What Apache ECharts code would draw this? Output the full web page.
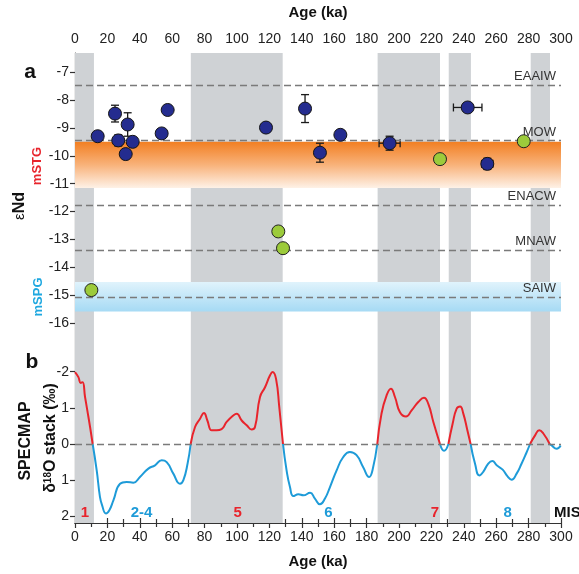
<!DOCTYPE html>
<html>
<head>
<meta charset="utf-8">
<script src="https://cdn.jsdelivr.net/npm/echarts@6/dist/echarts.min.js"></script>
<style>html,body{margin:0;padding:0;background:#fff;}#c{width:579px;height:574px;}</style>
</head>
<body>
<div id="c"></div>
<script>
// ---- Data ----
var ageTicks = [0,20,40,60,80,100,120,140,160,180,200,220,240,260,280,300];
// Interglacial (gray) bands, ka
var bandStart = [0, 71.5, 186.8, 230.7, 281.3];
var bandEnd   = [11.7, 128.2, 225.3, 244.4, 293.2];
// Panel a: blue points
var blueAge  = [14.0, 24.7, 26.7, 32.5, 31.3, 35.6, 53.5, 57.2, 117.9, 142.0, 163.8, 151.2, 194.2, 242.4, 254.5];
var blueNd   = [-9.30, -8.49, -9.45, -8.88, -9.94, -9.50, -9.20, -8.36, -8.99, -8.31, -9.25, -9.89, -9.55, -8.27, -10.29];
var blueYErr = [0, 0.30, 0.20, 0.42, 0.15, 0, 0, 0.15, 0, 0.50, 0.12, 0.34, 0.25, 0.05, 0.20];
var blueXErr = [0, 0, 0, 0, 0, 0, 0, 0, 0, 0, 0, 0, 6.5, 8.8, 3.5];
// Panel a: green points
var greenAge  = [225.3, 277.0, 125.5, 128.4, 10.1];
var greenNd   = [-10.12, -9.48, -12.71, -13.31, -14.81];
var greenYErr = [0, 0, 0, 0, 0];
var greenXErr = [3, 3, 0, 0, 0];
// Water mass end-members (dashed lines)
var wmNames  = ['EAAIW', 'MOW', 'ENACW', 'MNAW', 'SAIW'];
var wmValues = [-7.47, -9.46, -11.76, -13.37, -15.05];
// Shaded ranges
var mSTG = [-9.5, -11.15];
var mSPG = [-14.52, -15.58];
var aTicks = [-16,-15,-14,-13,-12,-11,-10,-9,-8,-7];
// Panel b: SPECMAP d18O stack
var bAges = [0,2.1,3.5,4.7,6.2,7.6,9.3,10.9,13.4,15.4,16.7,19.1,21.2,23.7,27.8,31.9,36,40.1,45.3,49.4,53.5,56.6,60.7,64.8,66.9,69.5,71.4,74.1,77.2,79.6,81.7,84.4,87.4,90.5,93.6,97.7,99.8,102.9,106,109,111.1,114.2,117.3,120.4,122,124.1,126.1,128.4,130.6,132.7,134.8,137.9,141,145.1,148.1,151.2,154.3,157.4,161.5,165.6,169.7,173.8,177.9,181.6,183.6,186.6,189.2,192.3,195,197.5,200.6,204.3,207.8,211.9,215.4,218.1,221.2,225.3,227.8,230.5,233.1,235.6,237.7,239.7,242.2,244.2,246.9,249.6,252,255.1,257.6,260.3,264,266.9,269.5,272.6,275.7,278.4,280.9,284,286.6,289.1,293.0,294.2,297.3,299.8];
var bValues = [-1.99,-1.85,-1.69,-1.71,-1.30,-0.93,-0.47,0,0.73,1.46,1.69,1.92,1.83,1.56,1.10,1.05,1.07,0.91,0.68,0.59,0.45,0.50,0.82,1.10,1.00,0.54,0,-0.47,-0.70,-0.86,-0.65,-0.38,-0.38,-0.41,-0.61,-0.79,-0.84,-0.65,-0.52,-0.40,-0.47,-1.30,-1.57,-1.90,-1.99,-1.80,-1.02,0,0.73,1.19,1.44,1.39,1.42,1.35,1.51,1.67,1.51,1.19,0.73,0.36,0.22,0.31,0.64,0.91,0.73,0,-0.84,-1.34,-1.53,-1.30,-0.88,-0.76,-0.93,-1.16,-1.28,-1.11,-0.61,0,0.19,0,-0.56,-0.98,-1.04,-0.84,-0.38,0,0.54,0.87,0.77,0.54,0.47,0.59,0.71,0.89,0.99,0.82,0.54,0.27,0,-0.24,-0.38,-0.29,0,0.04,0.13,0.04];
var bTicks = [-2,-1,0,1,2];
var bTickLabels = ['-2','1','0','1','2'];
// MIS labels
var misLabels = ['1','2-4','5','6','7','8'];
var misAges   = [6.2, 41.1, 100.4, 156.4, 222.2, 267.1];
var misVal    = [1.9, 1.9, 1.9, 1.9, 1.9, 1.9];
var misWarm   = [true, false, true, false, true, false];

// ---- Style ----
var RED = '#E8242C', BLUE = '#1E9BD8', GRAY_BAND = '#CFD2D5';
var FONT = 'Liberation Sans';
var L = 75, W = 486;

function zip(a, b) { return a.map(function (v, i) { return [v, b[i]]; }); }
// warm (negative) and cold (positive) parts of the curve, sharing the zero points
var warmData = bAges.map(function (a, i) { return bValues[i] <= 0 ? [a, bValues[i]] : [a, null]; });
var coldData = bAges.map(function (a, i) { return bValues[i] >= 0 ? [a, bValues[i]] : [a, null]; });

var errData = [];
blueAge.forEach(function (a, i) { errData.push([a, blueNd[i], blueXErr[i], blueYErr[i]]); });
greenAge.forEach(function (a, i) { errData.push([a, greenNd[i], greenXErr[i], greenYErr[i]]); });

var bandAreas = bandStart.map(function (s, i) {
  return [{ xAxis: s, yAxis: 0 }, { xAxis: bandEnd[i], yAxis: 1 }];
});

var chart = echarts.init(document.getElementById('c'), null, { renderer: 'canvas' });

var xCommon = function (gi, show, pos, name) {
  return {
    gridIndex: gi, type: 'value', min: 0, max: 300, interval: 20, position: pos,
    show: show,
    name: name, nameLocation: 'middle', nameGap: pos === 'top' ? 33 : 31,
    nameTextStyle: { fontFamily: FONT, fontSize: 15, fontWeight: 'bold', color: '#111' },
    axisLine: { show: show, lineStyle: { color: '#333', width: 1.2 } },
    axisTick: { show: show, inside: true, length: 5, lineStyle: { color: '#333', width: 1.2 } },
    minorTick: { show: show, splitNumber: 2, length: 4, lineStyle: { color: '#333', width: 1.2 } },
    axisLabel: { show: show, fontFamily: FONT, fontSize: 14, color: '#222', margin: 7 },
    splitLine: { show: false }
  };
};

var curveBase = { type: 'line', xAxisIndex: 3, yAxisIndex: 2, smooth: 0.5, connectNulls: false,
  showSymbol: false, symbol: 'none', z: 3 };

var option = {
  animation: false,
  backgroundColor: '#fff',
  grid: [
    { left: L, top: 52, width: W, height: 479 },
    { left: L, top: 72, width: W, height: 251.3 },
    { left: L, top: 371.7, width: W, height: 144.6 }
  ],
  xAxis: [
    xCommon(0, true, 'top', 'Age (ka)'),
    xCommon(0, true, 'bottom', 'Age (ka)'),
    xCommon(1, false, 'bottom', ''),
    xCommon(2, false, 'bottom', '')
  ],
  yAxis: [
    { gridIndex: 0, type: 'value', min: 0, max: 1, show: true,
      axisLine: { show: true, onZero: false, lineStyle: { color: '#333', width: 1.2 } },
      axisTick: { show: false }, axisLabel: { show: false }, splitLine: { show: false } },
    { gridIndex: 1, type: 'value', min: -16, max: -7, interval: 1,
      axisLine: { show: false },
      axisTick: { show: true, length: 5, lineStyle: { color: '#333', width: 1.2 } },
      axisLabel: { fontFamily: FONT, fontSize: 14, color: '#222', margin: 6 },
      splitLine: { show: false } },
    { gridIndex: 2, type: 'value', min: -2, max: 2, interval: 1, inverse: true,
      axisLine: { show: false },
      axisTick: { show: true, length: 5, lineStyle: { color: '#333', width: 1.2 } },
      axisLabel: { fontFamily: FONT, fontSize: 14, color: '#222', margin: 6,
        formatter: function (v) { var i = bTicks.indexOf(v); return i >= 0 ? bTickLabels[i] : ''; } },
      splitLine: { show: false } }
  ],
  series: [
    // 0: gray interglacial bands
    { type: 'line', xAxisIndex: 0, yAxisIndex: 0, data: [], z: 0,
      markArea: { silent: true, itemStyle: { color: GRAY_BAND }, data: bandAreas } },
    // 1: panel a shaded ranges + dashed end-member lines
    { type: 'line', xAxisIndex: 2, yAxisIndex: 1, data: [], z: 1,
      markArea: { silent: true, data: [
        [{ yAxis: mSTG[0], xAxis: 0, itemStyle: { color: new echarts.graphic.LinearGradient(0, 0, 0, 1, [
            { offset: 0, color: '#F27F22' }, { offset: 0.5, color: '#F8B27A' }, { offset: 1, color: '#FEF1E6' }]) } },
         { yAxis: mSTG[1], xAxis: 300 }],
        [{ yAxis: mSPG[0], xAxis: 0, itemStyle: { color: new echarts.graphic.LinearGradient(0, 0, 0, 1, [
            { offset: 0, color: '#E0F3FC' }, { offset: 1, color: '#A6DAF4' }]) } },
         { yAxis: mSPG[1], xAxis: 300 }]
      ] },
      markLine: { silent: true, symbol: 'none',
        lineStyle: { color: '#7A7A7A', type: [7, 4], width: 1.3 },
        label: { show: true, position: 'insideEndTop', distance: [5, 2], fontFamily: FONT, fontSize: 13, color: '#333',
          formatter: function (p) { return p.name; } },
        data: wmNames.map(function (n, i) { return { name: n, yAxis: wmValues[i] }; }) } },
    // 2: SPECMAP curve, warm part
    Object.assign({}, curveBase, { name: 'warm', data: warmData, lineStyle: { width: 2, color: RED } ,
      markLine: { silent: true, symbol: 'none', lineStyle: { color: '#7A7A7A', type: [7, 4], width: 1.3 },
        label: { show: false }, data: [{ yAxis: 0 }] } }),
    // 3: SPECMAP curve, cold part
    Object.assign({}, curveBase, { name: 'cold', data: coldData, lineStyle: { width: 2, color: BLUE } }),
    // 4: error bars
    { type: 'custom', xAxisIndex: 2, yAxisIndex: 1, z: 4, data: errData,
      renderItem: function (params, api) {
        var x = api.value(0), y = api.value(1), xe = api.value(2), ye = api.value(3);
        var kids = [], cap = 4;
        var st = { stroke: '#1a1a1a', lineWidth: 1.3 };
        if (ye > 0) {
          var p1 = api.coord([x, y + ye]), p2 = api.coord([x, y - ye]);
          kids.push({ type: 'line', shape: { x1: p1[0], y1: p1[1], x2: p2[0], y2: p2[1] }, style: st });
          kids.push({ type: 'line', shape: { x1: p1[0] - cap, y1: p1[1], x2: p1[0] + cap, y2: p1[1] }, style: st });
          kids.push({ type: 'line', shape: { x1: p2[0] - cap, y1: p2[1], x2: p2[0] + cap, y2: p2[1] }, style: st });
        }
        if (xe > 0) {
          var q1 = api.coord([x - xe, y]), q2 = api.coord([x + xe, y]);
          kids.push({ type: 'line', shape: { x1: q1[0], y1: q1[1], x2: q2[0], y2: q2[1] }, style: st });
          kids.push({ type: 'line', shape: { x1: q1[0], y1: q1[1] - cap, x2: q1[0], y2: q1[1] + cap }, style: st });
          kids.push({ type: 'line', shape: { x1: q2[0], y1: q2[1] - cap, x2: q2[0], y2: q2[1] + cap }, style: st });
        }
        return { type: 'group', children: kids };
      } },
    // 5: blue points
    { type: 'scatter', xAxisIndex: 2, yAxisIndex: 1, z: 5, symbolSize: 13, data: zip(blueAge, blueNd),
      itemStyle: { color: '#242C8F', borderColor: '#151515', borderWidth: 1, opacity: 1 } },
    // 6: green points
    { type: 'scatter', xAxisIndex: 2, yAxisIndex: 1, z: 5, symbolSize: 13, data: zip(greenAge, greenNd),
      itemStyle: { color: '#9CCB3B', borderColor: '#222', borderWidth: 1, opacity: 1 } },
    // 7: MIS labels
    { type: 'scatter', xAxisIndex: 3, yAxisIndex: 2, z: 6, symbolSize: 0, silent: true,
      data: misLabels.map(function (t, i) {
        return { name: t, value: [misAges[i], misVal[i]],
          label: { color: misWarm[i] ? RED : BLUE } };
      }),
      label: { show: true, position: 'inside', fontFamily: FONT, fontSize: 15, fontWeight: 'bold',
        textBorderWidth: 0, opacity: 1,
        formatter: function (p) { return p.name; } } }
  ],
  graphic: [
    { type: 'text', x: 30, y: 72, style: { text: 'a', fontFamily: FONT, fontSize: 21, fontWeight: 'bold', fill: '#111', textAlign: 'center', textVerticalAlign: 'middle' } },
    { type: 'text', x: 32, y: 362, style: { text: 'b', fontFamily: FONT, fontSize: 21, fontWeight: 'bold', fill: '#111', textAlign: 'center', textVerticalAlign: 'middle' } },
    { type: 'text', x: 20, y: 206, rotation: Math.PI / 2,
      style: { text: '{e|ε}{n|Nd}', textAlign: 'center', textVerticalAlign: 'middle',
        rich: { e: { fontFamily: FONT, fontSize: 15, fill: '#111' }, n: { fontFamily: FONT, fontSize: 16, fontWeight: 'bold', fill: '#111' } } } },
    { type: 'text', x: 37, y: 166, rotation: Math.PI / 2,
      style: { text: 'mSTG', fontFamily: FONT, fontSize: 13, fontWeight: 'bold', fill: RED, textAlign: 'center', textVerticalAlign: 'middle' } },
    { type: 'text', x: 38, y: 297, rotation: Math.PI / 2,
      style: { text: 'mSPG', fontFamily: FONT, fontSize: 13, fontWeight: 'bold', fill: '#1FA8E0', textAlign: 'center', textVerticalAlign: 'middle' } },
    { type: 'text', x: 26, y: 441, rotation: Math.PI / 2,
      style: { text: 'SPECMAP', fontFamily: FONT, fontSize: 16, fontWeight: 'bold', fill: '#111', textAlign: 'center', textVerticalAlign: 'middle' } },
    { type: 'text', x: 51, y: 438, rotation: Math.PI / 2,
      style: { text: '{d|δ}{s|18}{d|O stack (‰)}', textAlign: 'center', textVerticalAlign: 'middle',
        rich: { d: { fontFamily: FONT, fontSize: 16, fontWeight: 'bold', fill: '#111', verticalAlign: 'bottom' },
                s: { fontFamily: FONT, fontSize: 10, fontWeight: 'bold', fill: '#111', verticalAlign: 'top' } } } },
    { type: 'text', x: 554, y: 513, style: { text: 'MIS', fontFamily: FONT, fontSize: 15, fontWeight: 'bold', fill: '#111', textAlign: 'left', textVerticalAlign: 'middle' } }
  ]
};
chart.setOption(option);
</script>
</body>
</html>
